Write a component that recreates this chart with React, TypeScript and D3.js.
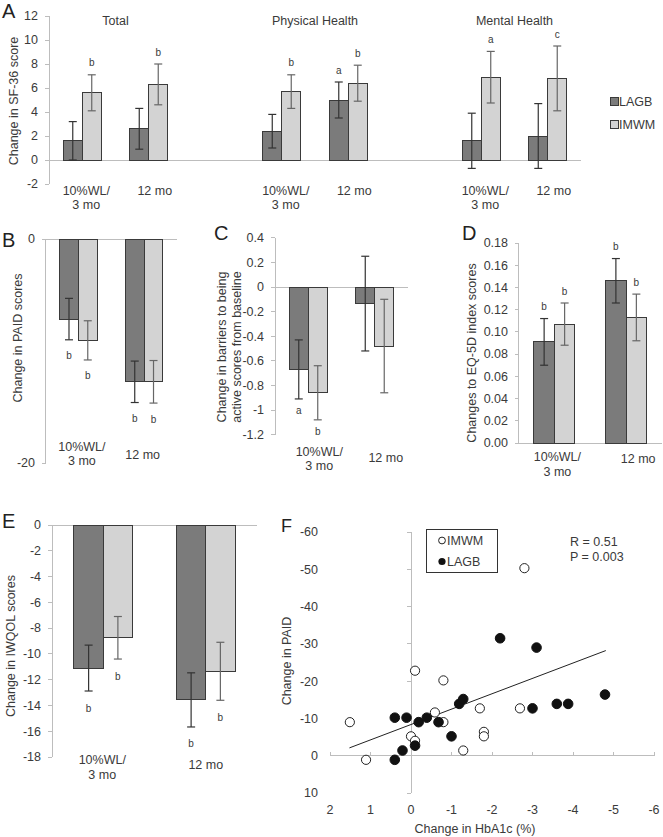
import React from 'react';
import * as d3 from 'd3';

const FONT = '"Liberation Sans", Arial, Helvetica, sans-serif';
const TEXT = '#3a3a3a';
const AXIS = '#bdbdbd';
const LAGB_FILL = '#7b7b7b';
const IMWM_FILL = '#d3d3d3';
const BAR_STROKE = '#3a3a3a';
const LAGB_ERR = '#333333';
const IMWM_ERR = '#666666';

const seriesNames = ['LAGB', 'IMWM'];
const timepoints = ['10%WL/\n3 mo', '12 mo'];

// ---------- Panel A : SF-36 ----------
const aGroups = ['Total', 'Physical Health', 'Mental Health'];
const aLAGB = [1.6, 2.6, 2.4, 5.0, 1.6, 2.0];
const aLAGBErr = [1.6, 1.7, 1.4, 1.5, 2.3, 2.7];
const aIMWM = [5.6, 6.3, 5.7, 6.4, 6.9, 6.8];
const aIMWMErr = [1.5, 1.7, 1.4, 1.5, 2.15, 2.7];
const aLAGBLetters = ['', '', '', 'a', '', ''];
const aIMWMLetters = ['b', 'b', 'b', 'b', 'a', 'c'];
const aTicks = [-2, 0, 2, 4, 6, 8, 10, 12];

// ---------- Panel B : PAID ----------
const bLAGB = [-7.15, -12.75];
const bLAGBErr = [1.85, 1.85];
const bIMWM = [-9.05, -12.75];
const bIMWMErr = [1.75, 1.9];
const bLAGBLetters = ['b', 'b'];
const bIMWMLetters = ['b', 'b'];
const bTicks = [-20, 0];

// ---------- Panel C : barriers to being active ----------
const cLAGB = [-0.67, -0.135];
const cLAGBErr = [0.24, 0.385];
const cIMWM = [-0.86, -0.48];
const cIMWMErr = [0.22, 0.38];
const cLAGBLetters = ['a', ''];
const cIMWMLetters = ['b', ''];
const cTicks = [-1.2, -1, -0.8, -0.6, -0.4, -0.2, 0, 0.2, 0.4];

// ---------- Panel D : EQ-5D ----------
const dLAGB = [0.091, 0.146];
const dLAGBErr = [0.021, 0.02];
const dIMWM = [0.107, 0.113];
const dIMWMErr = [0.019, 0.021];
const dLAGBLetters = ['b', 'b'];
const dIMWMLetters = ['b', 'b'];
const dTicks = [0, 0.02, 0.04, 0.06, 0.08, 0.1, 0.12, 0.14, 0.16, 0.18];

// ---------- Panel E : IWQOL ----------
const eLAGB = [-11.1, -13.57];
const eLAGBErr = [1.78, 2.1];
const eIMWM = [-8.75, -11.35];
const eIMWMErr = [1.65, 2.25];
const eLAGBLetters = ['b', 'b'];
const eIMWMLetters = ['b', 'b'];
const eTicks = [-18, -16, -14, -12, -10, -8, -6, -4, -2, 0];

// ---------- Panel F : scatter ----------
const imwmHbA1c = [1.51, 1.11, -0.1, -0.8, -0.59, -0.8, 0.0, -0.1, -1.29, -1.7, -1.8, -1.8, -2.69, -2.8];
const imwmPAID = [-9.0, 1.1, -22.8, -20.2, -11.6, -9.0, -5.2, -4.0, -1.4, -12.7, -6.4, -5.2, -12.7, -50.3];
const lagbHbA1c = [0.4, 0.11, -0.19, -0.39, -0.68, -1.19, -1.29, -1.0, -0.1, 0.21, 0.4, -2.2, -3.1, -3.0, -3.6, -3.88, -4.79];
const lagbPAID = [-10.2, -10.2, -9.0, -10.2, -9.0, -13.9, -15.2, -5.2, -2.7, -1.4, 1.1, -31.5, -29.0, -12.7, -13.9, -13.9, -16.4];
const trendHbA1c = [1.52, -4.81];
const trendPAID = [-2.1, -28.2];
const fXTicks = [2, 1, 0, -1, -2, -3, -4, -5, -6];
const fYTicks = [-60, -50, -40, -30, -20, -10, 0, 10];
const statsText = ['R = 0.51', 'P = 0.003'];

type BarData = {
  slots: string[];
  cats: string[];
  labels: string[];
  lagb: number[]; lagbErr: number[];
  imwm: number[]; imwmErr: number[];
  lagbLetters: string[]; imwmLetters: string[];
  ticks: number[];
  fmt: (v: number) => string;
  yDomain: [number, number];
  headers?: string[];
};

type BarLayout = {
  xLeft: number; xRight: number; yTop: number; yBottom: number;
  tickX: number; letterGap: number;
  dx1: number; dx2: number; lab1Y: number; lab2Y: number; labSingleY: number;
  titleLines: string[]; titleXs: number[]; titleY: number;
  panel: string; panelX: number; panelY: number;
  headerY?: number;
};

function BarPanel({ d, L }: { d: BarData; L: BarLayout }) {
  const x = d3.scaleBand<string>().domain(d.slots).range([L.xLeft, L.xRight]).paddingInner(0).paddingOuter(0);
  const y = d3.scaleLinear().domain(d.yDomain).range([L.yBottom, L.yTop]);
  const half = (x.bandwidth() * 0.571) / 2;
  const y0 = y(0);
  const center = (k: string) => (x(k) as number) + x.bandwidth() / 2;
  return (
    <g fontFamily={FONT}>
      <text x={L.panelX} y={L.panelY} fontSize={20} fill="#222">{L.panel}</text>
      {L.titleLines.map((t, i) => (
        <text key={t} transform={`translate(${L.titleXs[i]},${L.titleY}) rotate(-90)`} textAnchor="middle" dy="0.35em" fontSize={12.5} fill={TEXT}>{t}</text>
      ))}
      <line x1={L.xLeft} x2={L.xLeft} y1={y(d.yDomain[1])} y2={y(d.yDomain[0])} stroke={AXIS} shapeRendering="crispEdges" />
      {d.ticks.map(t => (
        <g key={t}>
          <line x1={L.xLeft - 4} x2={L.xLeft} y1={y(t)} y2={y(t)} stroke={AXIS} shapeRendering="crispEdges" />
          <text x={L.tickX} y={y(t)} dy="0.35em" textAnchor="end" fontSize={12.5} fill={TEXT}>{d.fmt(t)}</text>
        </g>
      ))}
      <line x1={L.xLeft} x2={L.xRight} y1={y0} y2={y0} stroke={AXIS} shapeRendering="crispEdges" />
      {d.headers && d.headers.map(h => (
        <text key={h} x={(center(`${h}-0`) + center(`${h}-1`)) / 2} y={L.headerY} dy="0.35em" textAnchor="middle" fontSize={12.5} fill={TEXT}>{h}</text>
      ))}
      {d.cats.map((c, i) => {
        const cx = center(c);
        const bars = [
          { v: d.lagb[i], e: d.lagbErr[i], fill: LAGB_FILL, err: LAGB_ERR, letter: d.lagbLetters[i], x0: cx - half },
          { v: d.imwm[i], e: d.imwmErr[i], fill: IMWM_FILL, err: IMWM_ERR, letter: d.imwmLetters[i], x0: cx },
        ];
        const lines = d.labels[i].split('\n');
        return (
          <g key={c}>
            {bars.map((b, j) => {
              const top = Math.min(y(b.v), y0);
              const h = Math.abs(y(b.v) - y0);
              const bx = b.x0 + half / 2;
              const yHi = y(b.v + b.e);
              const yLo = y(b.v - b.e);
              const ly = b.v >= 0 ? yHi - L.letterGap : yLo + L.letterGap;
              return (
                <g key={j}>
                  <rect x={b.x0} y={top} width={half} height={h} fill={b.fill} stroke={BAR_STROKE} strokeWidth={1} shapeRendering="crispEdges" />
                  <line x1={bx} x2={bx} y1={yHi} y2={yLo} stroke={b.err} strokeWidth={1.2} />
                  <line x1={bx - 4} x2={bx + 4} y1={yHi} y2={yHi} stroke={b.err} strokeWidth={1.2} />
                  <line x1={bx - 4} x2={bx + 4} y1={yLo} y2={yLo} stroke={b.err} strokeWidth={1.2} />
                  {b.letter && (
                    <text x={bx} y={ly} dy="0.35em" textAnchor="middle" fontSize={10} fill={TEXT}>{b.letter}</text>
                  )}
                </g>
              );
            })}
            {lines.length === 2 ? (
              <g>
                <text x={cx + L.dx2} y={L.lab1Y} dy="0.35em" textAnchor="middle" fontSize={12.5} fill={TEXT}>{lines[0]}</text>
                <text x={cx + L.dx2} y={L.lab2Y} dy="0.35em" textAnchor="middle" fontSize={12.5} fill={TEXT}>{lines[1]}</text>
              </g>
            ) : (
              <text x={cx + L.dx1} y={L.labSingleY} dy="0.35em" textAnchor="middle" fontSize={12.5} fill={TEXT}>{lines[0]}</text>
            )}
          </g>
        );
      })}
    </g>
  );
}

function ScatterPanel() {
  const x = d3.scaleLinear().domain([2, -6]).range([330, 654]);
  const y = d3.scaleLinear().domain([-60, 10]).range([532, 793]);
  const x0 = x(0);
  const y0 = y(0);
  const imwm = imwmHbA1c.map((v, i) => ({ x: v, y: imwmPAID[i] }));
  const lagb = lagbHbA1c.map((v, i) => ({ x: v, y: lagbPAID[i] }));
  const trend = trendHbA1c.map((v, i) => ({ x: v, y: trendPAID[i] }));
  const line = d3.line<{ x: number; y: number }>().x(p => x(p.x)).y(p => y(p.y));
  return (
    <g fontFamily={FONT}>
      <text x={281} y={532} fontSize={18} fill="#222">F</text>
      <text transform={`translate(287,661) rotate(-90)`} textAnchor="middle" dy="0.35em" fontSize={12.5} fill={TEXT}>Change in PAID</text>
      <text x={475} y={829} dy="0.35em" textAnchor="middle" fontSize={12.5} fill={TEXT}>Change in HbA1c (%)</text>
      <line x1={x0} x2={x0} y1={y(-60)} y2={y(10)} stroke={AXIS} shapeRendering="crispEdges" />
      {fYTicks.map(t => (
        <g key={t}>
          <line x1={x0 - 4} x2={x0} y1={y(t)} y2={y(t)} stroke={AXIS} shapeRendering="crispEdges" />
          <text x={318} y={y(t)} dy="0.35em" textAnchor="end" fontSize={12.5} fill={TEXT}>{t}</text>
        </g>
      ))}
      <line x1={x(2)} x2={x(-6)} y1={y0} y2={y0} stroke={AXIS} shapeRendering="crispEdges" />
      {fXTicks.map(t => (
        <g key={t}>
          <line x1={x(t)} x2={x(t)} y1={y0 - 4} y2={y0} stroke={AXIS} shapeRendering="crispEdges" />
          <text x={x(t)} y={810} dy="0.35em" textAnchor="middle" fontSize={12.5} fill={TEXT}>{t}</text>
        </g>
      ))}
      <path d={line(trend) || ''} fill="none" stroke="#222" strokeWidth={1} />
      {imwm.map((p, i) => (
        <circle key={`o${i}`} cx={x(p.x)} cy={y(p.y)} r={4.6} fill="#fff" stroke="#222" strokeWidth={1} />
      ))}
      {lagb.map((p, i) => (
        <circle key={`f${i}`} cx={x(p.x)} cy={y(p.y)} r={4.8} fill="#111" stroke="#111" strokeWidth={1} />
      ))}
      <rect x={426.5} y={529.5} width={71} height={43} fill="#fff" stroke="#333" strokeWidth={1} />
      <circle cx={442} cy={540.5} r={3.4} fill="#fff" stroke="#222" strokeWidth={1} />
      <text x={447} y={541} dy="0.35em" fontSize={12.5} fill={TEXT}>{seriesNames[1]}</text>
      <circle cx={442} cy={561.5} r={3.6} fill="#111" />
      <text x={447} y={562} dy="0.35em" fontSize={12.5} fill={TEXT}>{seriesNames[0]}</text>
      {statsText.map((s, i) => (
        <text key={s} x={570} y={542 + i * 15} dy="0.35em" fontSize={12.5} fill={TEXT}>{s}</text>
      ))}
    </g>
  );
}

const twoSlots = ['t0', 't1'];

export default function App() {
  const aSlots: string[] = [];
  const aCats: string[] = [];
  const aLabels: string[] = [];
  aGroups.forEach((g, gi) => {
    timepoints.forEach((_, ti) => {
      aSlots.push(`${g}-${ti}`);
      aCats.push(`${g}-${ti}`);
      aLabels.push(timepoints[ti]);
    });
    if (gi < aGroups.length - 1) aSlots.push(`gap${gi}`);
  });
  const fmtC = (v: number) => (Math.abs(v) < 1e-9 ? '0' : Number.isInteger(Math.round(v * 10) / 10) && Math.abs(v) === 1 ? String(v) : String(Math.round(v * 10) / 10));

  const A: BarData = {
    slots: aSlots, cats: aCats, labels: aLabels,
    lagb: aLAGB, lagbErr: aLAGBErr, imwm: aIMWM, imwmErr: aIMWMErr,
    lagbLetters: aLAGBLetters, imwmLetters: aIMWMLetters,
    ticks: aTicks, fmt: v => String(v), yDomain: [-2, 12], headers: aGroups,
  };
  const B: BarData = {
    slots: twoSlots, cats: twoSlots, labels: timepoints,
    lagb: bLAGB, lagbErr: bLAGBErr, imwm: bIMWM, imwmErr: bIMWMErr,
    lagbLetters: bLAGBLetters, imwmLetters: bIMWMLetters,
    ticks: bTicks, fmt: v => String(v), yDomain: [-20, 0],
  };
  const C: BarData = {
    slots: twoSlots, cats: twoSlots, labels: timepoints,
    lagb: cLAGB, lagbErr: cLAGBErr, imwm: cIMWM, imwmErr: cIMWMErr,
    lagbLetters: cLAGBLetters, imwmLetters: cIMWMLetters,
    ticks: cTicks, fmt: fmtC, yDomain: [-1.2, 0.4],
  };
  const D: BarData = {
    slots: twoSlots, cats: twoSlots, labels: timepoints,
    lagb: dLAGB, lagbErr: dLAGBErr, imwm: dIMWM, imwmErr: dIMWMErr,
    lagbLetters: dLAGBLetters, imwmLetters: dIMWMLetters,
    ticks: dTicks, fmt: v => v.toFixed(2), yDomain: [0, 0.18],
  };
  const E: BarData = {
    slots: twoSlots, cats: twoSlots, labels: timepoints,
    lagb: eLAGB, lagbErr: eLAGBErr, imwm: eIMWM, imwmErr: eIMWMErr,
    lagbLetters: eLAGBLetters, imwmLetters: eIMWMLetters,
    ticks: eTicks, fmt: v => String(v), yDomain: [-18, 0],
  };

  return (
    <svg width={663} height={837} style={{ position: 'absolute', left: 0, top: 0, background: '#fff' }}>
      <rect x={0} y={0} width={663} height={837} fill="#fff" />
      <BarPanel d={A} L={{
        xLeft: 49, xRight: 581, yTop: 16, yBottom: 184, tickX: 38, letterGap: 12,
        dx1: 6, dx2: 4, lab1Y: 191, lab2Y: 205, labSingleY: 191,
        titleLines: ['Change in SF-36 score'], titleXs: [14], titleY: 101,
        panel: 'A', panelX: 2, panelY: 18, headerY: 21,
      }} />
      <g fontFamily={FONT}>
        <rect x={610.5} y={97.5} width={8} height={8} fill={LAGB_FILL} stroke={BAR_STROKE} />
        <text x={619} y={101.5} dy="0.35em" fontSize={12.5} fill={TEXT}>{seriesNames[0]}</text>
        <rect x={610.5} y={120.5} width={8} height={8} fill={IMWM_FILL} stroke={BAR_STROKE} />
        <text x={619} y={124.5} dy="0.35em" fontSize={12.5} fill={TEXT}>{seriesNames[1]}</text>
      </g>
      <BarPanel d={B} L={{
        xLeft: 45.5, xRight: 177, yTop: 239, yBottom: 463, tickX: 35, letterGap: 16,
        dx1: -1.5, dx2: 3.5, lab1Y: 447, lab2Y: 461, labSingleY: 455,
        titleLines: ['Change in PAID scores'], titleXs: [18], titleY: 338,
        panel: 'B', panelX: 2, panelY: 247,
      }} />
      <BarPanel d={C} L={{
        xLeft: 275, xRight: 408, yTop: 237.8, yBottom: 434.6, tickX: 264, letterGap: 12,
        dx1: 11, dx2: 11, lab1Y: 452, lab2Y: 466, labSingleY: 458,
        titleLines: ['Change in barriers to being', 'active scores from baseline'], titleXs: [222, 237], titleY: 347,
        panel: 'C', panelX: 214, panelY: 240,
      }} />
      <BarPanel d={D} L={{
        xLeft: 518.5, xRight: 662, yTop: 243, yBottom: 443, tickX: 508, letterGap: 12,
        dx1: 12, dx2: 3, lab1Y: 457, lab2Y: 472, labSingleY: 459,
        titleLines: ['Changes to EQ-5D index scores'], titleXs: [472], titleY: 353,
        panel: 'D', panelX: 462, panelY: 240,
      }} />
      <BarPanel d={E} L={{
        xLeft: 52, xRight: 257, yTop: 525, yBottom: 757, tickX: 41, letterGap: 17,
        dx1: 0, dx2: -1, lab1Y: 760, lab2Y: 775, labSingleY: 765,
        titleLines: ['Change in IWQOL scores'], titleXs: [11], titleY: 646,
        panel: 'E', panelX: 2, panelY: 528,
      }} />
      <ScatterPanel />
    </svg>
  );
}
